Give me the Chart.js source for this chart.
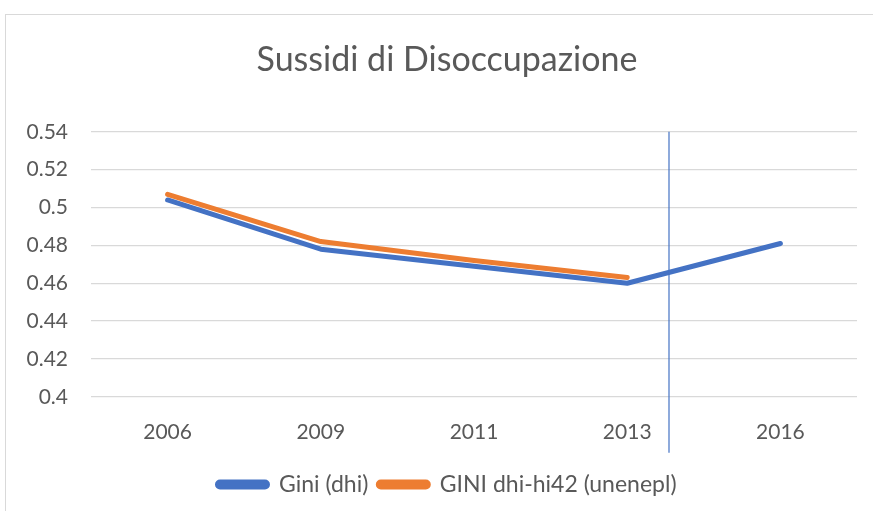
<!DOCTYPE html>
<html>
<head>
<meta charset="utf-8">
<script src="https://cdn.jsdelivr.net/npm/chart.js@4.4.1/dist/chart.umd.min.js"></script>
<style>
  html, body { margin: 0; padding: 0; background: #fff; overflow: hidden; }
  #frame {
    position: absolute; left: 5px; top: 14px; width: 884px; height: 510px;
    border: 1px solid #d9d9d9; box-sizing: border-box;
  }
  #wrap { position: absolute; left: 5px; top: 14px; width: 884px; height: 510px; }
</style>
</head>
<body>
<div id="frame"></div>
<div id="wrap"><canvas id="chart"></canvas></div>
<script>
"use strict";

const years = ["2006", "2009", "2011", "2013", "2016"];
const giniDhi = [0.504, 0.478, 0.469, 0.460, 0.481];
const giniUnempl = [0.507, 0.482, 0.472, 0.463, null];
const seriesNames = ["Gini (dhi)", "GINI dhi-hi42 (unenepl)"];
const yMin = 0.4;
const yMax = 0.54;
const yStep = 0.02;
// separator between 2013 and 2016, in category units
const breakAt = 3.27;

const textColor = "#595959";
const fontFamily = "Lato, 'Noto Sans', sans-serif";

// thin vertical rule across the plot
const breakLine = {
  id: "breakLine",
  afterDatasetsDraw(chart) {
    const { ctx, chartArea, scales } = chart;
    const x = Math.round(scales.x.getPixelForValue(breakAt));
    ctx.save();
    ctx.strokeStyle = "#4472C4";
    ctx.lineWidth = 1.2;
    ctx.beginPath();
    ctx.moveTo(x, chartArea.top);
    ctx.lineTo(x, chartArea.bottom + 56);
    ctx.stroke();
    ctx.restore();
  },
};

const ctx = document.getElementById("chart").getContext("2d");

new Chart(ctx, {
  type: "line",
  data: {
    labels: years,
    datasets: [
      {
        label: seriesNames[0],
        data: giniDhi,
        borderColor: "#4472C4",
        backgroundColor: "#4472C4",
        order: 1,
      },
      {
        label: seriesNames[1],
        data: giniUnempl,
        borderColor: "#ED7D31",
        backgroundColor: "#ED7D31",
        order: 0,
      },
    ],
  },
  options: {
    responsive: true,
    maintainAspectRatio: false,
    animation: false,
    elements: {
      line: {
        borderWidth: 5,
        borderCapStyle: "round",
        borderJoinStyle: "round",
        tension: 0,
      },
      point: { radius: 0, hoverRadius: 0 },
    },
    layout: { padding: { left: 0, right: 0, top: 0, bottom: 18 } },
    plugins: {
      title: {
        display: true,
        text: "Sussidi di Disoccupazione",
        color: textColor,
        font: { family: fontFamily, size: 34, weight: "normal", lineHeight: 1.2 },
        padding: { top: 26, bottom: 51 },
      },
      legend: {
        position: "bottom",
        labels: {
          color: textColor,
          font: { family: fontFamily, size: 23 },
          boxWidth: 50,
          boxHeight: 5,
          useBorderRadius: true,
          borderRadius: 2.5,
          padding: 10,
          sort: (a, b) => a.datasetIndex - b.datasetIndex,
        },
      },
      tooltip: { enabled: false },
    },
    scales: {
      x: {
        offset: true,
        grid: { display: false, drawTicks: false },
        border: { display: false },
        ticks: {
          color: textColor,
          font: { family: fontFamily, size: 21, lineHeight: 1.2 },
          padding: 23,
          maxRotation: 0,
        },
        afterFit(scale) {
          scale.height -= 5;
        },
      },
      y: {
        min: yMin,
        max: yMax,
        grid: { color: "#d9d9d9", lineWidth: 1.3, drawTicks: false },
        border: { display: false },
        ticks: {
          stepSize: yStep,
          color: textColor,
          font: { family: fontFamily, size: 21 },
          padding: 23,
          callback: (v) => String(+Number(v).toFixed(2)),
        },
        afterFit(scale) {
          scale.width = 86;
        },
      },
      // empty margin on the right of the plot
      yRight: {
        position: "right",
        grid: { display: false, drawTicks: false },
        border: { display: false },
        ticks: { display: false },
        afterFit(scale) {
          scale.width = 32;
        },
      },
    },
  },
  plugins: [breakLine],
});
</script>
</body>
</html>
